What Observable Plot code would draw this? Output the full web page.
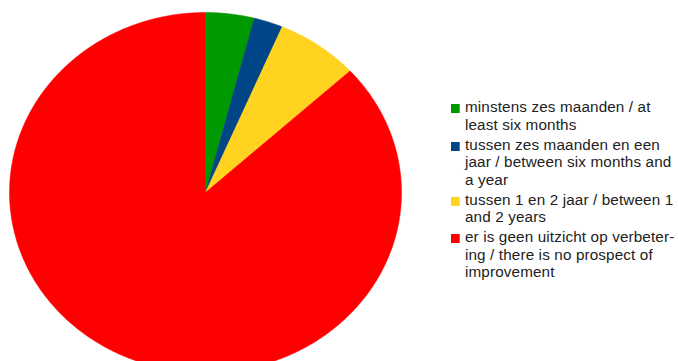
<!DOCTYPE html>
<html>
<head>
<meta charset="utf-8">
<script src="https://cdn.jsdelivr.net/npm/d3@7"></script>
<script src="https://cdn.jsdelivr.net/npm/@observablehq/plot@0.6"></script>
<style>
  html, body { margin: 0; padding: 0; background: #fff; overflow: hidden; }
  #wrap { position: relative; width: 678px; height: 361px; }
  #legend { position: absolute; left: 451px; top: 99px; font-family: "Liberation Sans", Arial, sans-serif; font-size: 14px; line-height: 17.5px; letter-spacing: 0.12px; color: #222; transform: scaleX(1.09); transform-origin: 0 0; }
  .item { position: relative; padding-left: 12.8px; margin-bottom: 2.5px; width: 200px; white-space: nowrap; }
  .sw { position: absolute; left: 0; top: 5px; width: 8.3px; height: 9px; }
</style>
</head>
<body>
<div id="wrap"><div id="chart"></div><div id="legend"></div></div>
<script>
const categories = [
  "minstens zes maanden / at least six months",
  "tussen zes maanden en een jaar / between six months and a year",
  "tussen 1 en 2 jaar / between 1 and 2 years",
  "er is geen uitzicht op verbetering / there is no prospect of improvement"
];
const legendLines = [
  ["minstens zes maanden / at", "least six months"],
  ["tussen zes maanden en een", "jaar / between six months and", "a year"],
  ["tussen 1 en 2 jaar / between 1", "and 2 years"],
  ["er is geen uitzicht op verbeter-", "ing / there is no prospect of", "improvement"]
];
const values = [4.0, 2.4, 6.8, 86.8];
const colors = ["#009900", "#004586", "#ffd320", "#ff0000"];

const arcs = d3.pie().sort(null).startAngle(0).endAngle(2 * Math.PI)(values);
const pts = [];
arcs.forEach((a, i) => {
  const n = Math.max(4, Math.ceil((a.endAngle - a.startAngle) / 0.01));
  pts.push({cat: categories[i], x: 0, y: 0});
  for (let k = 0; k <= n; k++) {
    const t = a.startAngle + (a.endAngle - a.startAngle) * k / n;
    pts.push({cat: categories[i], x: Math.sin(t), y: Math.cos(t)});
  }
  pts.push({cat: categories[i], x: 0, y: 0});
});

const chart = Plot.plot({
  width: 678,
  height: 361,
  margin: 0,
  x: {domain: [-1, 1], range: [9, 401], axis: null},
  y: {domain: [-1, 1], range: [372, 12], axis: null},
  color: {domain: categories, range: colors},
  marks: [
    Plot.line(pts, {x: "x", y: "y", z: "cat", fill: "cat", stroke: "cat", strokeWidth: 0.5, curve: "linear", clip: true})
  ]
});
document.getElementById("chart").appendChild(chart);

const legend = document.getElementById("legend");
categories.forEach((c, i) => {
  const d = document.createElement("div");
  d.className = "item";
  const sw = document.createElement("span");
  sw.className = "sw";
  sw.style.background = colors[i];
  d.appendChild(sw);
  legendLines[i].forEach((l, j) => {
    if (j) d.appendChild(document.createElement("br"));
    d.appendChild(document.createTextNode(l));
  });
  legend.appendChild(d);
});
</script>
</body>
</html>
